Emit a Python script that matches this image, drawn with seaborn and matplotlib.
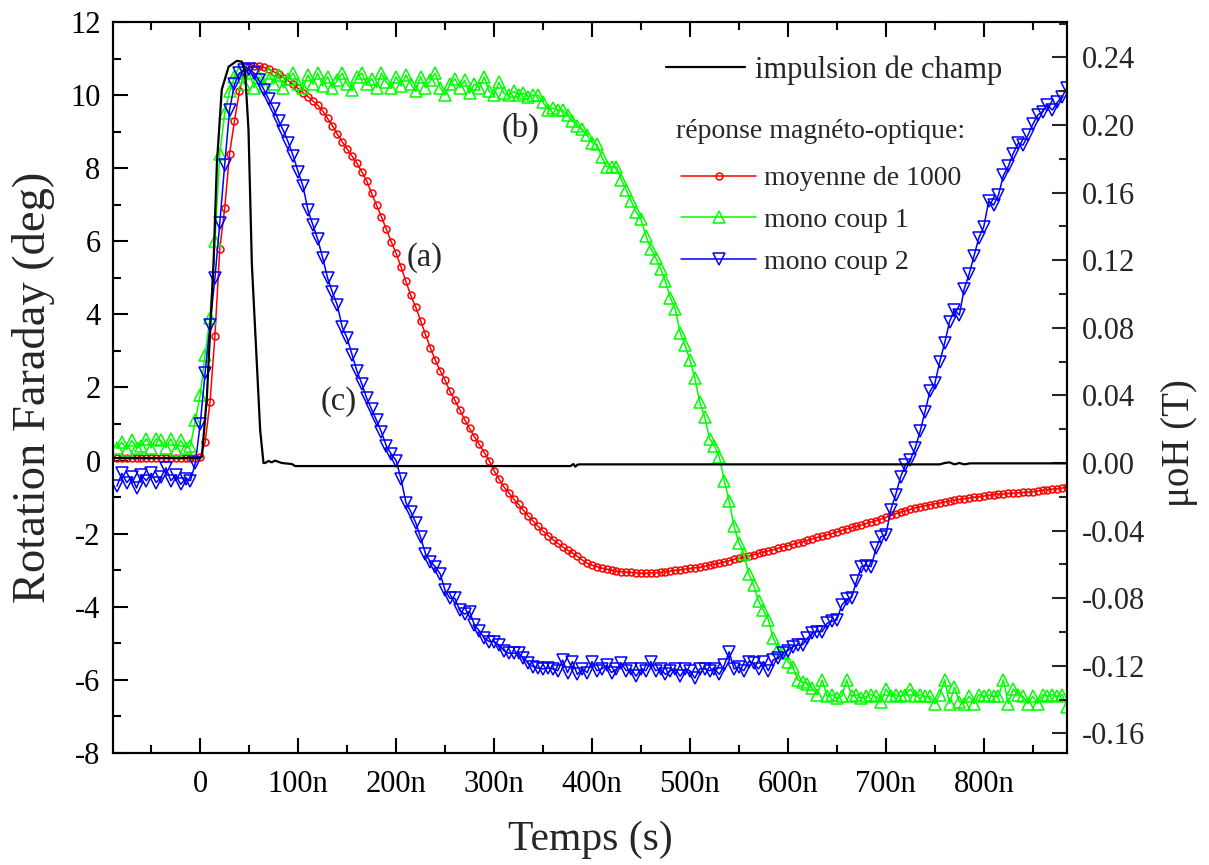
import numpy as np
import matplotlib
matplotlib.use('Agg')
import matplotlib.pyplot as plt
import seaborn as sns
from matplotlib.lines import Line2D
from matplotlib.ticker import MultipleLocator, FuncFormatter

# time axis in ns, one sample every 5 ns
temps = np.arange(-85, 890, 5)

# Rotation Faraday (deg)
moyenne_1000 = [
    0.06, 0.06, 0.06, 0.06, 0.06, 0.06, 0.06, 0.06, 0.06, 0.06,
    0.06, 0.06, 0.06, 0.06, 0.06, 0.06, 0.06, 0.1, 0.5, 1.6,
    3.4, 5.8, 6.9, 8.4, 9.3, 10.1, 10.6, 10.78, 10.8, 10.8,
    10.76, 10.7, 10.64, 10.57, 10.48, 10.39, 10.29, 10.18, 10.07, 9.96,
    9.84, 9.72, 9.57, 9.36, 9.16, 8.93, 8.72, 8.53, 8.33, 8.13,
    7.9, 7.65, 7.31, 6.99, 6.67, 6.33, 5.99, 5.67, 5.3, 4.9,
    4.52, 4.2, 3.83, 3.45, 3.08, 2.75, 2.46, 2.2, 1.89, 1.65,
    1.39, 1.12, 0.88, 0.65, 0.44, 0.22, 0.0, -0.28, -0.5, -0.72,
    -0.88, -1.05, -1.2, -1.36, -1.52, -1.66, -1.8, -1.93, -2.05, -2.16,
    -2.26, -2.36, -2.45, -2.53, -2.62, -2.72, -2.81, -2.86, -2.9, -2.94,
    -2.97, -3.0, -3.03, -3.04, -3.05, -3.06, -3.07, -3.08, -3.08, -3.07,
    -3.07, -3.06, -3.04, -3.02, -3.0, -2.99, -2.97, -2.95, -2.93, -2.92,
    -2.89, -2.86, -2.83, -2.81, -2.77, -2.74, -2.7, -2.67, -2.64, -2.61,
    -2.57, -2.54, -2.5, -2.47, -2.44, -2.4, -2.36, -2.33, -2.29, -2.25,
    -2.22, -2.18, -2.14, -2.1, -2.07, -2.03, -1.99, -1.95, -1.91, -1.87,
    -1.83, -1.8, -1.76, -1.72, -1.68, -1.64, -1.6, -1.55, -1.5, -1.45,
    -1.41, -1.37, -1.33, -1.29, -1.26, -1.23, -1.21, -1.18, -1.16, -1.13,
    -1.11, -1.08, -1.06, -1.04, -1.02, -1.0, -0.99, -0.97, -0.95, -0.93,
    -0.92, -0.91, -0.9, -0.89, -0.88, -0.87, -0.86, -0.85, -0.83, -0.81,
    -0.8, -0.78, -0.77, -0.75, -0.73]

mono_coup_1 = [
    0.35, 0.5, 0.3, 0.55, 0.35, 0.4, 0.6, 0.35, 0.6, 0.55,
    0.35, 0.6, 0.3, 0.55, 0.35, 0.4, 1.1, 1.8, 2.9, 3.9,
    6.0, 8.4, 9.5, 10.1, 10.5, 10.6, 10.3, 10.6, 10.2, 10.5,
    10.25, 10.6, 10.3, 10.55, 10.2, 10.45, 10.6, 10.3, 10.2, 10.55,
    10.3, 10.6, 10.25, 10.5, 10.2, 10.4, 10.6, 10.3, 10.15, 10.5,
    10.6, 10.3, 10.45, 10.2, 10.6, 10.35, 10.2, 10.5, 10.25, 10.55,
    10.3, 10.1, 10.5, 10.2, 10.4, 10.6, 10.2, 10.0, 10.3, 10.45,
    10.2, 10.4, 10.05, 10.3, 10.2, 10.5, 10.1, 10.0, 10.35, 10.05,
    10.0, 10.1, 10.0, 10.05, 9.95, 10.0, 10.0, 9.8, 9.6, 9.64,
    9.6, 9.59, 9.45, 9.3, 9.15, 9.07, 8.9, 8.7, 8.65, 8.3,
    8.04, 8.04, 8.04, 7.68, 7.4, 7.1, 6.8, 6.6, 6.15, 5.8,
    5.55, 5.25, 4.9, 4.45, 4.15, 3.5, 3.15, 2.75, 2.25, 1.6,
    1.2, 0.6, 0.4, 0.1, -0.55, -1.1, -1.8, -2.25, -2.55, -3.1,
    -3.4, -3.85, -4.09, -4.35, -4.85, -5.15, -5.27, -5.5, -5.65, -6.0,
    -6.05, -6.1, -6.23, -6.4, -6.0, -6.45, -6.4, -6.5, -6.45, -6.0,
    -6.45, -6.4, -6.5, -6.45, -6.4, -6.45, -6.6, -6.25, -6.45, -6.4,
    -6.45, -6.4, -6.25, -6.45, -6.4, -6.45, -6.45, -6.65, -6.4, -6.0,
    -6.65, -6.2, -6.6, -6.65, -6.45, -6.65, -6.4, -6.45, -6.4, -6.45,
    -6.45, -6.0, -6.65, -6.25, -6.4, -6.45, -6.65, -6.45, -6.65, -6.4,
    -6.45, -6.4, -6.45, -6.4, -6.75]

mono_coup_2 = [
    -0.7, -0.35, -0.6, -0.45, -0.75, -0.4, -0.55, -0.35, -0.6, -0.45,
    -0.2, -0.55, -0.4, -0.65, -0.5, -0.55, -0.07, 1.0, 2.4, 3.7,
    5.0, 6.5, 8.1, 9.6, 10.3, 10.6, 10.68, 10.7, 10.6, 10.4,
    10.15, 9.88, 9.63, 9.3, 9.02, 8.7, 8.33, 7.9, 7.5, 6.85,
    6.45, 6.05, 5.55, 5.0, 4.6, 4.25, 3.65, 3.35, 2.9, 2.45,
    2.1, 1.7, 1.4, 1.1, 0.78, 0.4, 0.18, 0.0, -0.5, -1.15,
    -1.4, -1.7, -2.1, -2.55, -2.77, -2.9, -3.1, -3.55, -3.77, -3.77,
    -4.1, -4.2, -4.13, -4.5, -4.66, -4.85, -4.95, -4.95, -5.05, -5.2,
    -5.27, -5.27, -5.27, -5.4, -5.55, -5.64, -5.68, -5.7, -5.68, -5.7,
    -5.75, -5.46, -5.8, -5.5, -5.85, -5.7, -5.8, -5.5, -5.75, -5.7,
    -5.6, -5.8, -5.7, -5.55, -5.75, -5.7, -5.9, -5.7, -5.75, -5.5,
    -5.75, -5.7, -5.85, -5.75, -5.7, -5.9, -5.7, -5.75, -5.95, -5.7,
    -5.7, -5.75, -5.7, -5.85, -5.6, -5.23, -5.7, -5.65, -5.75, -5.5,
    -5.55, -5.7, -5.5, -5.75, -5.45, -5.41, -5.27, -5.2, -5.09, -5.05,
    -5.04, -4.85, -4.72, -4.68, -4.68, -4.45, -4.4, -4.36, -3.95, -3.8,
    -3.75, -3.3, -2.9, -2.88, -2.9, -2.4, -2.08, -2.04, -1.35, -0.94,
    -0.45, -0.12, 0.02, 0.35, 0.8, 1.34, 1.89, 2.11, 2.7, 3.21,
    3.8, 4.12, 3.98, 4.7, 5.1, 5.6, 6.1, 6.4, 7.1, 6.99,
    7.27, 7.8, 8.05, 8.4, 8.68, 8.63, 8.9, 9.2, 9.45, 9.55,
    9.73, 9.59, 9.8, 9.96, 10.2]

# field pulse (T), right axis
t_impulsion = [-89, 0, 1.7, 6.8, 10.2, 13.6, 17, 22, 29, 37.4, 42.5, 45.9,
               49.3, 52.7, 57.8, 61.2, 64.6, 66.3, 69.7, 73, 76.5, 83.3,
               93.5, 97, 378, 381, 383, 385, 388, 755, 760, 765, 770, 775,
               780, 786, 800, 886]
b_impulsion = [0.003, 0.003, 0.0037, 0.039, 0.079, 0.118, 0.177, 0.221,
               0.2345, 0.238, 0.2375, 0.2306, 0.197, 0.118, 0.059, 0.0195,
               0.0, 0.0, 0.0012, 0.0004, 0.0014, 0.0, -0.0006, -0.0018,
               -0.0018, -0.0006, -0.0022, -0.001, -0.0008, -0.0008, 0.0,
               0.0004, -0.0008, 0.0, -0.0008, -0.0002, -0.0002, -0.0002]

sns.set_style('ticks')
plt.rcParams['font.family'] = ['Liberation Serif', 'DejaVu Serif']
plt.rcParams['axes.unicode_minus'] = False

fig, ax = plt.subplots(figsize=(12.09, 8.65), dpi=100)
fig.subplots_adjust(left=0.0935, right=0.8826, bottom=0.1295, top=0.9746)
ax2 = ax.twinx()

series = [(moyenne_1000, '#ff0000', 'o', 5, 'moyenne de 1000'),
          (mono_coup_1, '#00ff00', '^', 8.5, 'mono coup 1'),
          (mono_coup_2, '#0000ff', 'v', 8.5, 'mono coup 2')]
handles = []
for vals, col, mk, ms, lab in series:
    sns.lineplot(x=temps, y=vals, ax=ax, color=col, linewidth=1.1,
                 marker=mk, markersize=ms, markerfacecolor='none',
                 markeredgecolor=col, markeredgewidth=1.1,
                 estimator=None, sort=False, legend=False)
    handles.append(Line2D([], [], color=col, lw=1.1, marker=mk, ms=ms,
                          mfc='none', mec=col, mew=1.1))

sns.lineplot(x=t_impulsion, y=b_impulsion, ax=ax2, color='black',
             linewidth=1.6, estimator=None, sort=False, legend=False)

ax.set_xlim(-89, 885)
ax.set_ylim(-8, 12)
ax2.set_ylim(-0.1716, 0.261)

ax.xaxis.set_major_locator(MultipleLocator(100))
ax.xaxis.set_minor_locator(MultipleLocator(50))
ax.xaxis.set_major_formatter(FuncFormatter(lambda v, p: '0' if abs(v) < 1e-6 else f'{v:.0f}n'))
ax.yaxis.set_major_locator(MultipleLocator(2))
ax.yaxis.set_minor_locator(MultipleLocator(1))
ax2.yaxis.set_major_locator(MultipleLocator(0.04))
ax2.yaxis.set_minor_locator(MultipleLocator(0.02))
ax2.yaxis.set_major_formatter(FuncFormatter(lambda v, p: f'{round(v, 2) + 0:.2f}'))

ax.tick_params(which='both', direction='in', top=True, right=False, width=1.5, colors='black')
ax.tick_params(which='major', length=11)
ax.tick_params(which='minor', length=6)
ax.tick_params(axis='x', labelsize=22, pad=12)
ax.tick_params(axis='y', labelsize=22, pad=9)
ax2.tick_params(which='both', direction='in', width=1.5)
ax2.tick_params(which='major', length=11, labelsize=22, pad=11)
ax2.tick_params(which='minor', length=6)
for a in (ax, ax2):
    for s in a.spines.values():
        s.set_linewidth(1.5)
        s.set_color('black')

ax.set_xlabel('Temps (s)', fontsize=30)
ax.set_ylabel('Rotation Faraday (deg)', fontsize=33.5)
ax2.set_ylabel('μoH (T)', fontsize=28)
ax.xaxis.set_label_coords(0.5, -0.0917)
ax.yaxis.set_label_coords(-0.061, 0.5)
ax2.yaxis.set_label_coords(1.098, 0.424)

ax.text(229.6, 5.56, '(a)', ha='center', va='center', fontsize=23.5)
ax.text(327.5, 9.1, '(b)', ha='center', va='center', fontsize=23.5)
ax.text(141, 1.6, '(c)', ha='center', va='center', fontsize=23.5)

leg1 = ax2.legend([Line2D([], [], color='black', lw=1.6)], ['impulsion de champ'],
                  loc='center left', bbox_to_anchor=(666 / 1209, 1 - 70 / 865),
                  bbox_transform=fig.transFigure, frameon=False, borderpad=0,
                  borderaxespad=0, handlelength=2.6, handletextpad=0.3, fontsize=22)
ax2.add_artist(leg1)
fig.text(676 / 1209, 1 - 138 / 865, 'réponse magnéto-optique:', fontsize=20,
         ha='left', va='baseline')
leg2 = ax2.legend(handles, [s[4] for s in series], loc='upper left',
                  bbox_to_anchor=(681 / 1209, 1 - 166 / 865),
                  bbox_transform=fig.transFigure, frameon=False, borderpad=0,
                  borderaxespad=0, handlelength=2.7, handletextpad=0.3,
                  labelspacing=0.58, numpoints=1, fontsize=20)

fig.savefig('out.png', dpi=100)
